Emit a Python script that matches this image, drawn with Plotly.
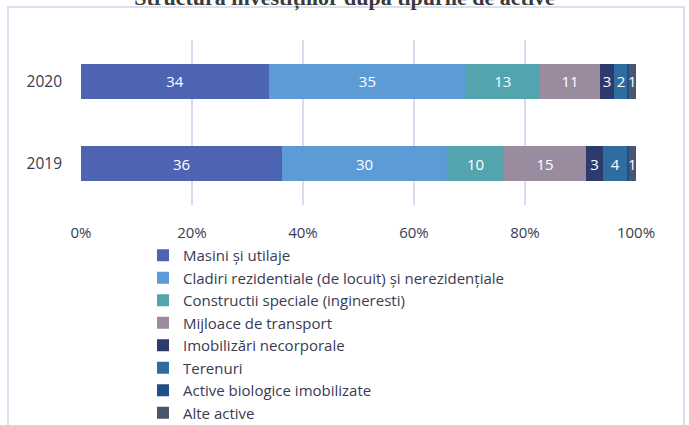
import plotly.graph_objects as go

years = ["2019", "2020"]
series_names = [
    "Masini și utilaje",
    "Cladiri rezidentiale (de locuit) și nerezidențiale",
    "Constructii speciale (ingineresti)",
    "Mijloace de transport",
    "Imobilizări necorporale",
    "Terenuri",
    "Active biologice imobilizate",
    "Alte active",
]
masini = [36.2, 33.9]
cladiri = [29.8, 35.4]
constructii = [10.2, 13.4]
mijloace = [14.8, 10.8]
imobilizari = [3.1, 2.6]
terenuri = [4.3, 2.4]
biologice = [0.3, 0.2]
alte = [1.3, 1.3]
series_values = [masini, cladiri, constructii, mijloace, imobilizari, terenuri, biologice, alte]
show_labels = [True, True, True, True, True, True, False, True]
colors = ["#4c64b2", "#5c9bd6", "#52a4ae", "#9b8b9f", "#2c3b6b", "#2f6ca0", "#1e4f88", "#4a5670"]
tick_vals = [0, 20, 40, 60, 80, 100]
tick_text = ["0%", "20%", "40%", "60%", "80%", "100%"]

FONT = "Open Sans"
TXT = "#3a3a52"
fig = go.Figure()
for name, vals, col, lab in zip(series_names, series_values, colors, show_labels):
    fig.add_trace(go.Bar(
        y=years, x=vals, name=name, orientation="h",
        marker=dict(color=col, line=dict(width=0)),
        text=[f"{v:.0f}" for v in vals] if lab else None,
        textposition="inside" if lab else "none",
        insidetextanchor="middle",
        constraintext="none",
        textfont=dict(color="white", size=15, family=FONT),
        hoverinfo="skip",
    ))

L, R, T, B = 81, 636, 40, 205
W, H = 689, 425
pw, ph = R - L, B - T

fig.update_layout(
    width=W, height=H,
    barmode="stack", bargap=0.58,
    margin=dict(l=L, r=W - R, t=T, b=H - B, pad=0, autoexpand=False),
    paper_bgcolor="white", plot_bgcolor="white",
    font=dict(family=FONT, size=15, color=TXT),
    title=dict(text="<b>Structura investițiilor după tipurile de active</b>",
               x=0.5, xanchor="center", y=1 - 5 / H, yref="container", yanchor="bottom",
               font=dict(family="Liberation Serif", size=22, color="#3a3a3a")),
    xaxis=dict(range=[0, 100], tickvals=tick_vals, ticktext=tick_text,
               showgrid=True, gridcolor="#d9dbef", gridwidth=2, zeroline=False,
               showline=False, ticks="", ticklabelstandoff=17,
               tickfont=dict(size=15, color=TXT)),
    yaxis=dict(showgrid=False, zeroline=False, showline=False, ticks="",
               ticklabelstandoff=18, tickfont=dict(size=15.5, color=TXT)),
    legend=dict(orientation="v", traceorder="normal",
                x=(143 - L) / pw, xanchor="left",
                y=(B - 239) / ph, yanchor="top",
                font=dict(size=15, color=TXT, family=FONT),
                itemwidth=30, tracegroupgap=0, bgcolor="rgba(0,0,0,0)"),
    showlegend=True,
)
fig.add_shape(type="rect", xref="paper", yref="paper",
              x0=(8 - L) / pw, x1=(684 - L) / pw,
              y0=(B - 440) / ph, y1=(B - 7) / ph,
              line=dict(color="#dcdff0", width=2), fillcolor="rgba(0,0,0,0)", layer="below")
fig.write_html("out.html", config={"displayModeBar": False},
               post_script="document.body.style.margin='0';document.body.style.padding='0';")
